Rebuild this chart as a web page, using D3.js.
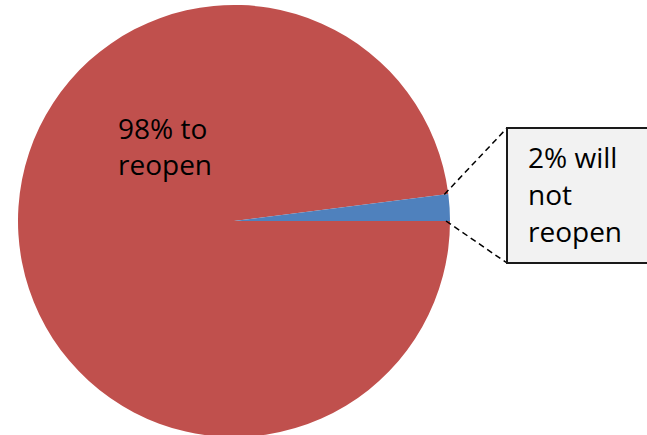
<!DOCTYPE html>
<html>
<head>
<meta charset="utf-8">
<script src="https://cdn.jsdelivr.net/npm/d3@7"></script>
<style>
  html, body { margin: 0; padding: 0; background: #fff; overflow: hidden; }
  svg { display: block; }
</style>
</head>
<body>
<svg id="chart" width="647" height="435"></svg>
<script>
// Survey answers: share of businesses planning to reopen
const categories = ["to reopen", "will not reopen"];
const shares = [98, 2];
const colors = ["#C0504D", "#4F81BD"];
const insideLabel = ["98% to", "reopen"];
const calloutLabel = ["2% will", "not", "reopen"];

const width = 647, height = 435;
const cx = 234, cy = 221, radius = 216;
const font = "'Open Sans', sans-serif";

const svg = d3.select("#chart");

const pie = d3.pie()
  .value(d => d)
  .sort(null)
  .startAngle(Math.PI / 2)
  .endAngle(Math.PI / 2 + 2 * Math.PI);

const arcs = pie(shares);
const arc = d3.arc().innerRadius(0).outerRadius(radius);

const g = svg.append("g").attr("transform", `translate(${cx},${cy})`);

g.selectAll("path.slice")
  .data(arcs)
  .join("path")
  .attr("class", "slice")
  .attr("d", arc)
  .attr("fill", (d, i) => colors[i]);

// Label inside the large slice
const big = g.append("text")
  .attr("font-family", font)
  .attr("font-size", 28)
  .attr("fill", "#000");
insideLabel.forEach((t, i) => {
  big.append("tspan")
    .attr("x", 118 - cx)
    .attr("y", 139 - cy + i * 36)
    .text(t);
});

// Callout for the small slice
const small = arcs[1];
const pt = a => [(radius - 4) * Math.sin(a), -(radius - 4) * Math.cos(a)];
const boxX = 507 - cx, boxY = 128 - cy, boxH = 135, boxW = 200;

const p1 = pt(small.startAngle);
const p2 = pt(small.endAngle);
g.append("line")
  .attr("x1", p1[0]).attr("y1", p1[1])
  .attr("x2", boxX).attr("y2", boxY)
  .attr("stroke", "#000").attr("stroke-width", 1.5)
  .attr("stroke-dasharray", "6,4");
g.append("line")
  .attr("x1", p2[0]).attr("y1", p2[1])
  .attr("x2", boxX).attr("y2", boxY + boxH)
  .attr("stroke", "#000").attr("stroke-width", 1.5)
  .attr("stroke-dasharray", "6,4");

g.append("rect")
  .attr("x", boxX).attr("y", boxY)
  .attr("width", boxW).attr("height", boxH)
  .attr("fill", "#F2F2F2")
  .attr("stroke", "#1a1a1a")
  .attr("stroke-width", 2);

const callout = g.append("text")
  .attr("font-family", font)
  .attr("font-size", 28)
  .attr("fill", "#000");
calloutLabel.forEach((t, i) => {
  callout.append("tspan")
    .attr("x", 528 - cx)
    .attr("y", 168 - cy + i * 37)
    .text(t);
});
</script>
</body>
</html>
